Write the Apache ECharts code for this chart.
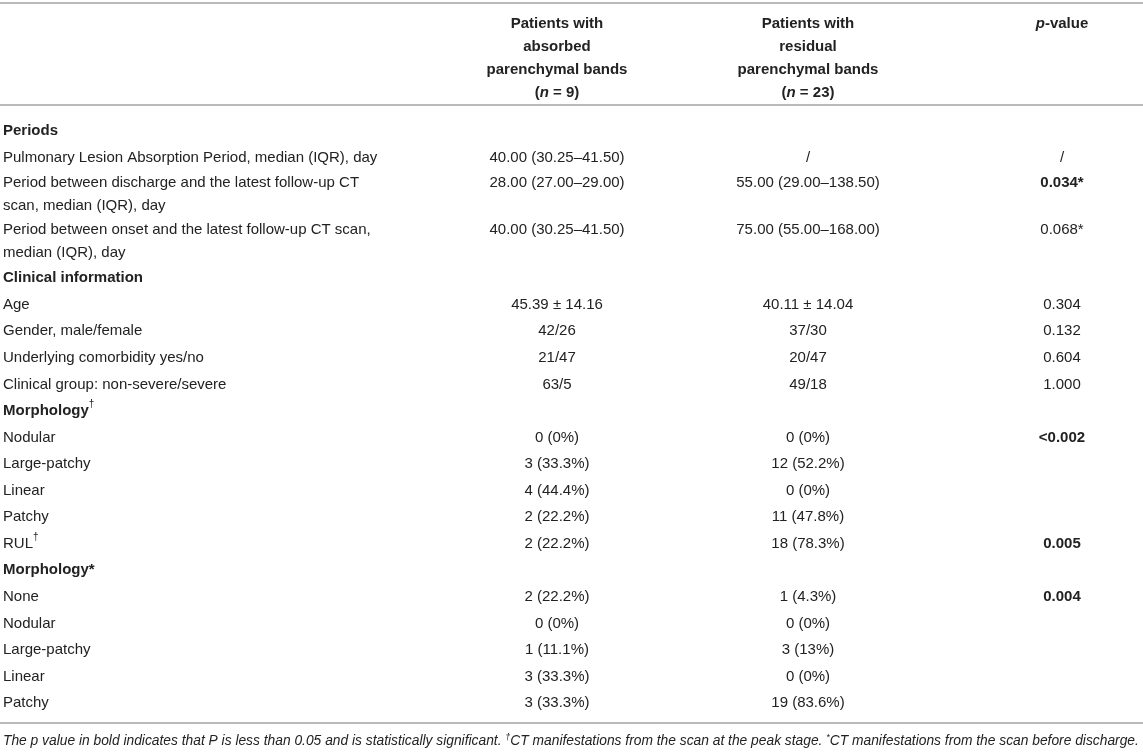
<!DOCTYPE html>
<html>
<head>
<meta charset="utf-8">
<script src="https://cdn.jsdelivr.net/npm/echarts@6/dist/echarts.min.js"></script>
<style>
  html, body { margin: 0; padding: 0; background: #fff; }
  #table { width: 1143px; height: 752px; }
</style>
</head>
<body>
<div id="table"></div>
<script>
var columnHeaders = [
  '',
  'Patients with\nabsorbed\nparenchymal bands\n({it|n} = 9)',
  'Patients with\nresidual\nparenchymal bands\n({it|n} = 23)',
  '{it|p}-value'
];
var rowLabels = [
  'Periods',
  'Pulmonary Lesion Absorption Period, median (IQR), day',
  'Period between discharge and the latest follow-up CT\nscan, median (IQR), day',
  'Period between onset and the latest follow-up CT scan,\nmedian (IQR), day',
  'Clinical information',
  'Age',
  'Gender, male/female',
  'Underlying comorbidity yes/no',
  'Clinical group: non-severe/severe',
  'Morphology†',
  'Nodular',
  'Large-patchy',
  'Linear',
  'Patchy',
  'RUL†',
  'Morphology*',
  'None',
  'Nodular',
  'Large-patchy',
  'Linear',
  'Patchy'
];
var rowKinds = [
  'section', 'item', 'item', 'item',
  'section', 'item', 'item', 'item', 'item',
  'section', 'item', 'item', 'item', 'item', 'item',
  'section', 'item', 'item', 'item', 'item', 'item'
];
var absorbed = [
  '', '40.00 (30.25–41.50)', '28.00 (27.00–29.00)', '40.00 (30.25–41.50)',
  '', '45.39 ± 14.16', '42/26', '21/47', '63/5',
  '', '0 (0%)', '3 (33.3%)', '4 (44.4%)', '2 (22.2%)', '2 (22.2%)',
  '', '2 (22.2%)', '0 (0%)', '1 (11.1%)', '3 (33.3%)', '3 (33.3%)'
];
var residual = [
  '', '/', '55.00 (29.00–138.50)', '75.00 (55.00–168.00)',
  '', '40.11 ± 14.04', '37/30', '20/47', '49/18',
  '', '0 (0%)', '12 (52.2%)', '0 (0%)', '11 (47.8%)', '18 (78.3%)',
  '', '1 (4.3%)', '0 (0%)', '3 (13%)', '0 (0%)', '19 (83.6%)'
];
var pValues = [
  '', '/', '0.034*', '0.068*',
  '', '0.304', '0.132', '0.604', '1.000',
  '', '<0.002', '', '', '', '0.005',
  '', '0.004', '', '', '', ''
];
var footnote = 'The p value in bold indicates that P is less than 0.05 and is statistically significant. ' +
  '{sup|†}CT manifestations from the scan at the peak stage. {sup|*}CT manifestations from the scan before discharge.';

(function() {
  var FAMILY = '"Liberation Sans", Arial, Helvetica, sans-serif';
  var ink = '#222222';
  var rule = '#a3a3a3';
  var LINE_H = 23;       // px between lines inside a cell
  var EXTRA = 0.77;      // row units added for each extra line
  var HEADER_FIRST = -3.54;
  var colX = [3, 557, 808, 1062];
  var colAlign = ['left', 'center', 'center', 'center'];

  function font(weight, style, size) {
    return (style || 'normal') + ' ' + (weight || 'normal') + ' ' + (size || 15) + 'px ' + FAMILY;
  }
  function lines(s) { return s.split('\n').length; }
  function mark(s) { return s.replace(/†/g, '{sup|†}'); }
  function significant(p) {
    var v = parseFloat(p.replace('<', ''));
    return !isNaN(v) && v < 0.05;
  }

  var rich = {
    sup: { font: font('normal', 'normal', 10), verticalAlign: 'top', lineHeight: 15 },
    it: { font: font('bold', 'italic', 15) }
  };

  // row centres in row units, built from the label line counts
  var rowCenter = [], top = 0;
  rowLabels.forEach(function(l) {
    var span = 1 + (lines(l) - 1) * EXTRA;
    rowCenter.push(top + span / 2);
    top += span;
  });
  var bodyEnd = top;

  function cell(x, y, text, align, bold) {
    return {
      type: 'text', x: x, y: y,
      style: {
        text: text, font: font(bold ? 'bold' : 'normal'), fill: ink,
        align: align, verticalAlign: 'top', lineHeight: LINE_H, rich: rich
      }
    };
  }

  var chart = echarts.init(document.getElementById('table'), null, { renderer: 'canvas' });
  chart.setOption({
    animation: false,
    grid: { left: 0, right: 0, top: 0, bottom: 0 },
    xAxis: { type: 'value', min: 0, max: 1, show: false },
    yAxis: { type: 'value', inverse: true, min: -4.432, max: 23.881, show: false },
    graphic: [{
      type: 'text', left: 3, top: 733,
      style: {
        text: footnote, font: font('normal', 'italic', 13.8), fill: ink, lineHeight: 16,
        rich: { sup: { font: font('normal', 'italic', 9), verticalAlign: 'top', lineHeight: 10 } }
      }
    }],
    series: [{
      type: 'custom',
      name: 'header',
      data: [[0, HEADER_FIRST]],
      renderItem: function(params, api) {
        var y = api.coord([api.value(0), api.value(1)])[1] - LINE_H / 2;
        var children = [];
        for (var c = 1; c < columnHeaders.length; c++) {
          children.push(cell(colX[c], y, columnHeaders[c], colAlign[c], true));
        }
        return { type: 'group', children: children };
      }
    }, {
      type: 'custom',
      name: 'body',
      data: rowCenter.map(function(v) { return [0, v]; }),
      renderItem: function(params, api) {
        var i = params.dataIndex;
        var yc = api.coord([api.value(0), api.value(1)])[1];
        var y = yc - lines(rowLabels[i]) * LINE_H / 2;
        return {
          type: 'group',
          children: [
            cell(colX[0], y, mark(rowLabels[i]), colAlign[0], rowKinds[i] === 'section'),
            cell(colX[1], y, absorbed[i], colAlign[1], false),
            cell(colX[2], y, residual[i], colAlign[2], false),
            cell(colX[3], y, pValues[i], colAlign[3], significant(pValues[i]))
          ]
        };
      },
      markLine: {
        silent: true,
        symbol: 'none',
        label: { show: false },
        lineStyle: { color: rule, type: 'solid', width: 1.5 },
        data: [{ yAxis: -4.33 }, { yAxis: -0.48 }, { yAxis: bodyEnd + 0.25 }]
      }
    }]
  });
  window.addEventListener('resize', function() { chart.resize(); });
})();
</script>
</body>
</html>
